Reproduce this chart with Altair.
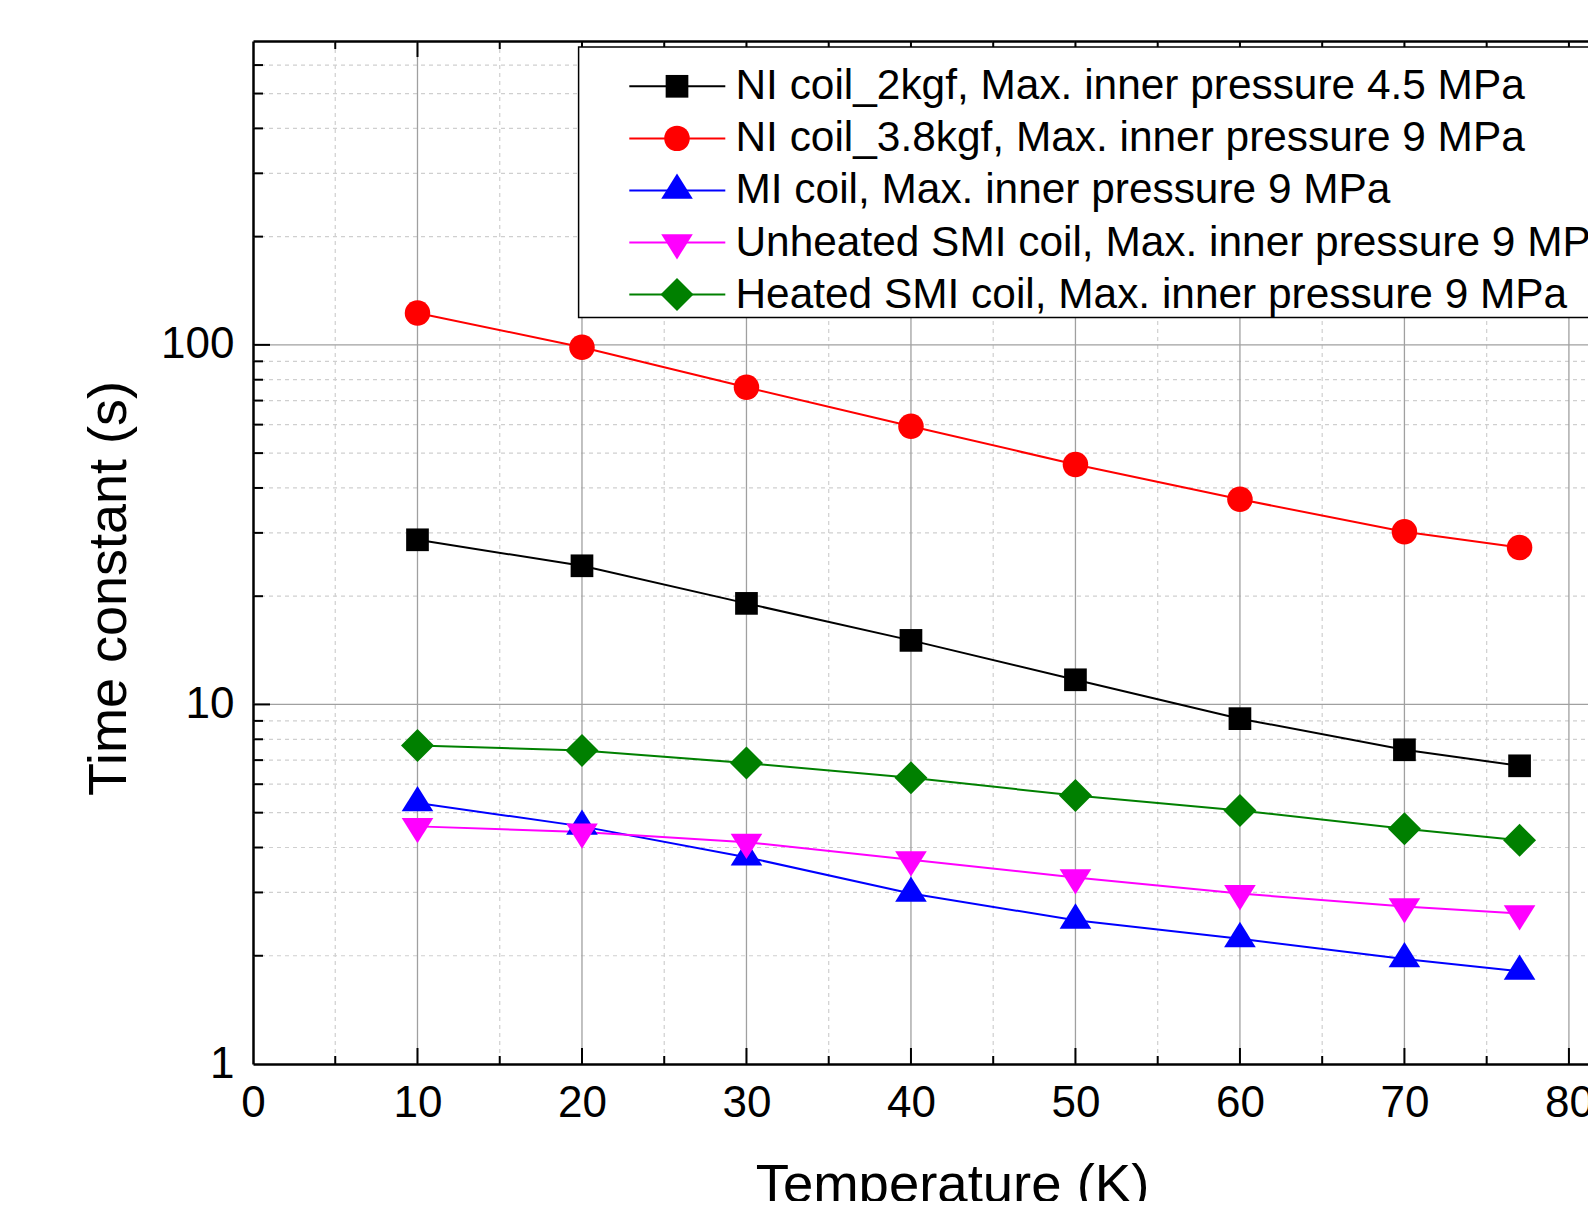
import altair as alt
import pandas as pd

# ---------------- data ----------------
temperatures = [10, 20, 30, 40, 50, 60, 70, 77]

series_names = [
    "NI coil_2kgf, Max. inner pressure 4.5 MPa",
    "NI coil_3.8kgf, Max. inner pressure 9 MPa",
    "MI coil, Max. inner pressure 9 MPa",
    "Unheated SMI coil, Max. inner pressure 9 MPa",
    "Heated SMI coil, Max. inner pressure 9 MPa",
]

ni_coil_2kgf = [28.7, 24.3, 19.1, 15.07, 11.71, 9.13, 7.48, 6.75]
ni_coil_38kgf = [122.7, 98.5, 76.2, 59.4, 46.5, 37.2, 30.2, 27.3]
mi_coil = [5.32, 4.58, 3.76, 2.98, 2.51, 2.23, 1.96, 1.81]
unheated_smi_coil = [4.58, 4.42, 4.14, 3.70, 3.30, 2.98, 2.74, 2.62]
heated_smi_coil = [7.69, 7.45, 6.87, 6.25, 5.58, 5.07, 4.51, 4.19]

x_tick_labels = [0, 10, 20, 30, 40, 50, 60, 70, 80]
x_major = [10, 20, 30, 40, 50, 60, 70, 80]
x_minor = [5, 15, 25, 35, 45, 55, 65, 75]
y_tick_labels = [1, 10, 100]
y_major = [10, 100]
y_minor = [2, 3, 4, 5, 6, 7, 8, 9, 20, 30, 40, 50, 60, 70, 80, 90, 200, 300, 400, 500, 600]

# ---------------- styles ----------------
series_colors = ["#000000", "#ff0000", "#0000ff", "#ff00ff", "#008000"]
# triangles centred on their centroid (as the original plotting software does)
TRI_UP = "M0,-1.07L1,0.53L-1,0.53Z"
TRI_DOWN = "M0,1.07L1,-0.53L-1,-0.53Z"
series_shapes = ["square", "circle", TRI_UP, TRI_DOWN, "diamond"]
marker_sizes = [515, 650, 1000, 1000, 1090]

W, H = 1335, 1023
FONT = "Liberation Sans"

rows = []
for name, vals in zip(series_names, [ni_coil_2kgf, ni_coil_38kgf, mi_coil,
                                     unheated_smi_coil, heated_smi_coil]):
    for t, v in zip(temperatures, vals):
        rows.append({"series": name, "T": t, "tau": v})
df = pd.DataFrame(rows)

xs = alt.Scale(domain=[0, 81.16], nice=False, zero=False)
ys = alt.Scale(type="log", domain=[1, 700], nice=False)
cs = alt.Scale(domain=series_names, range=series_colors)
ss = alt.Scale(domain=series_names, range=series_shapes)
zs = alt.Scale(type="ordinal", domain=series_names, range=marker_sizes)

y_axis = alt.Axis(
    values=y_tick_labels, format="d", ticks=False, tickSize=0, grid=False,
    domainColor="black", domainWidth=2.5,
    labelFont=FONT, labelFontSize=44, labelColor="black", labelPadding=19,
    labelFlush=False, labelOverlap=False,
    title="Time constant (s)", titleFont=FONT, titleFontSize=54,
    titleFontWeight="normal", titleColor="black", titleAngle=270,
    titleAlign="center", titleBaseline="alphabetic", titleX=-128, titleY=547,
)
x_axis_bottom = alt.Axis(
    orient="bottom", values=x_tick_labels, format="d", ticks=False, tickSize=0,
    grid=False, domainColor="black", domainWidth=2.5,
    labelFont=FONT, labelFontSize=44, labelColor="black", labelPadding=17,
    labelFlush=False, labelOverlap=False,
    title="Temperature (K)", titleFont=FONT, titleFontSize=54.5,
    titleFontWeight="normal", titleColor="black", titleAlign="center",
    titleBaseline="alphabetic", titleX=699, titleY=137,
)
x_axis_top = alt.Axis(
    orient="top", labels=False, ticks=False, tickSize=0, grid=False,
    domainColor="black", domainWidth=2.5, title="",
)

df_xmaj = pd.DataFrame({"T": x_major})
df_xmin = pd.DataFrame({"T": x_minor})
df_ymaj = pd.DataFrame({"tau": y_major})
df_ymin = pd.DataFrame({"tau": y_minor})

# gridlines
grid_x_minor = alt.Chart(df_xmin).mark_rule(
    color="#cfcfcf", strokeWidth=1.2, strokeDash=[4, 4]
).encode(x=alt.X("T:Q", scale=xs, axis=None), y=alt.value(0), y2=alt.value(H))
grid_y_minor = alt.Chart(df_ymin).mark_rule(
    color="#cfcfcf", strokeWidth=1.2, strokeDash=[4, 4]
).encode(y=alt.Y("tau:Q", scale=ys, axis=y_axis), x=alt.value(0), x2=alt.value(W))
grid_x_major = alt.Chart(df_xmaj).mark_rule(
    color="#a0a0a0", strokeWidth=1.3
).encode(x=alt.X("T:Q", scale=xs, axis=x_axis_top), y=alt.value(0), y2=alt.value(H))
grid_y_major = alt.Chart(df_ymaj).mark_rule(
    color="#a0a0a0", strokeWidth=1.3
).encode(y=alt.Y("tau:Q", scale=ys, axis=y_axis), x=alt.value(0), x2=alt.value(W))

# data
lines = alt.Chart(df).mark_line(strokeWidth=2).encode(
    x=alt.X("T:Q", scale=xs, axis=None),
    y=alt.Y("tau:Q", scale=ys, axis=y_axis),
    color=alt.Color("series:N", scale=cs, legend=None),
)
points = alt.Chart(df).mark_point(filled=True, opacity=1).encode(
    x=alt.X("T:Q", scale=xs, axis=x_axis_bottom),
    y=alt.Y("tau:Q", scale=ys, axis=y_axis),
    color=alt.Color("series:N", scale=cs, legend=None),
    shape=alt.Shape("series:N", scale=ss, legend=None),
    size=alt.Size("series:N", scale=zs, legend=None),
)

# inward ticks
tick_style = dict(color="black", strokeWidth=2)
t_bot_maj = alt.Chart(df_xmaj).mark_rule(**tick_style).encode(
    x=alt.X("T:Q", scale=xs, axis=None), y=alt.value(H), y2=alt.value(H - 16))
t_bot_min = alt.Chart(df_xmin).mark_rule(**tick_style).encode(
    x=alt.X("T:Q", scale=xs, axis=None), y=alt.value(H), y2=alt.value(H - 8))
t_top_maj = alt.Chart(df_xmaj).mark_rule(**tick_style).encode(
    x=alt.X("T:Q", scale=xs, axis=None), y=alt.value(0), y2=alt.value(16))
t_top_min = alt.Chart(df_xmin).mark_rule(**tick_style).encode(
    x=alt.X("T:Q", scale=xs, axis=None), y=alt.value(0), y2=alt.value(8))
t_left_maj = alt.Chart(df_ymaj).mark_rule(**tick_style).encode(
    y=alt.Y("tau:Q", scale=ys, axis=y_axis), x=alt.value(0), x2=alt.value(17))
t_left_min = alt.Chart(df_ymin).mark_rule(**tick_style).encode(
    y=alt.Y("tau:Q", scale=ys, axis=y_axis), x=alt.value(0), x2=alt.value(10))

main = alt.layer(
    grid_x_minor, grid_y_minor, grid_x_major, grid_y_major,
    lines, points,
    t_bot_maj, t_bot_min, t_top_maj, t_top_min, t_left_maj, t_left_min,
).resolve_axis(x="independent")

# legend (built from the series list)
legend_df = pd.DataFrame({"series": series_names, "row": list(range(len(series_names)))})
ly = alt.Y("row:Q", scale=alt.Scale(domain=[0, 4], range=[45.3, 253.6]), axis=None)

leg_box = alt.Chart(legend_df.head(1)).mark_rect(
    fill="white", stroke="black", strokeWidth=1.5
).encode(x=alt.value(325.6), x2=alt.value(W + 30), y=alt.value(6), y2=alt.value(276.6))
leg_lines = alt.Chart(legend_df).mark_rule(strokeWidth=2).encode(
    x=alt.value(376.3), x2=alt.value(472.3), y=ly,
    color=alt.Color("series:N", scale=cs, legend=None),
)
leg_points = alt.Chart(legend_df).mark_point(filled=True, opacity=1).encode(
    x=alt.value(424), y=ly,
    color=alt.Color("series:N", scale=cs, legend=None),
    shape=alt.Shape("series:N", scale=ss, legend=None),
    size=alt.Size("series:N", scale=zs, legend=None),
)
leg_text = alt.Chart(legend_df).mark_text(
    align="left", baseline="middle", font=FONT, fontSize=42.4, color="black"
).encode(x=alt.value(482.5), y=ly, text="series:N")

legend = alt.layer(leg_box, leg_lines, leg_points, leg_text)

chart = alt.layer(main, legend).resolve_scale(y="independent").properties(
    width=W, height=H,
    autosize=alt.AutoSizeParams(type="none"),
    padding={"left": 245, "top": 33, "right": 0, "bottom": 137},
    background="white",
).configure_view(strokeWidth=0)

chart.save("out.html", embed_options={"renderer": "svg", "actions": False})
